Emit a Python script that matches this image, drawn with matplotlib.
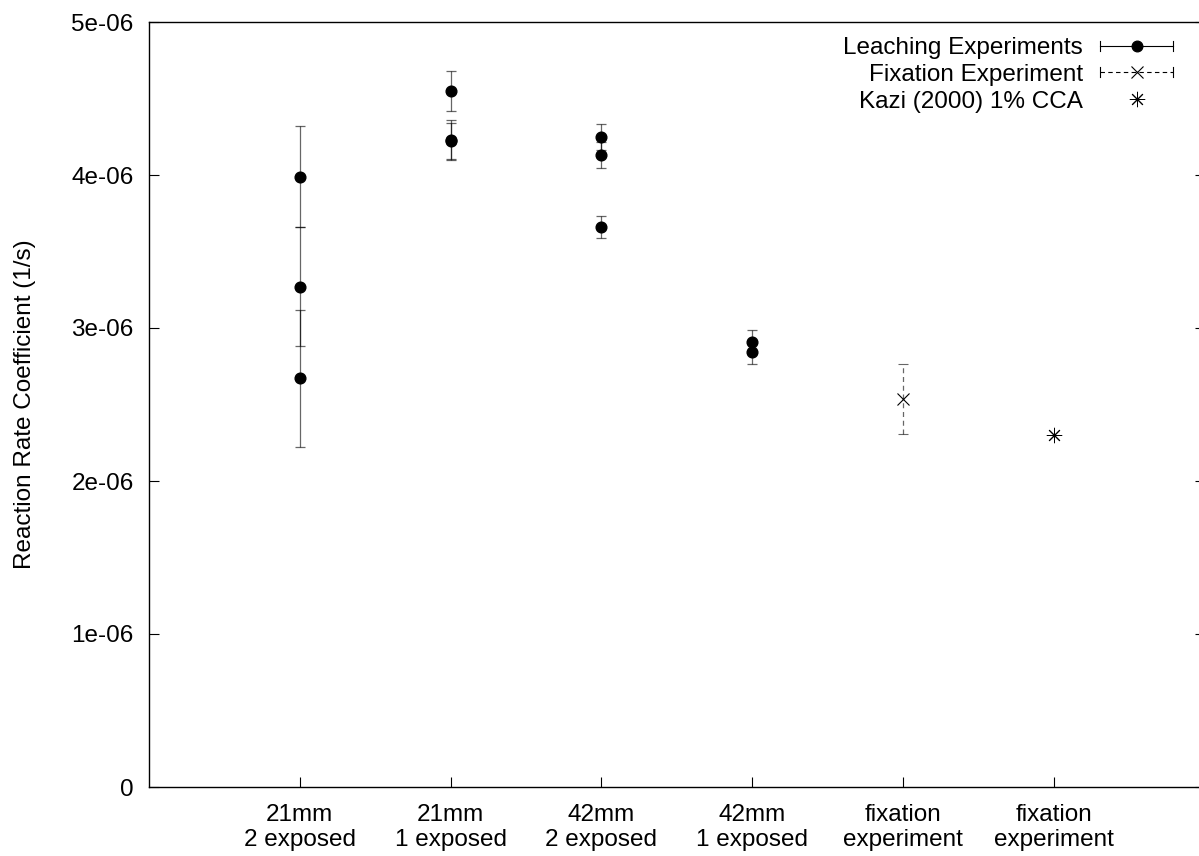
import matplotlib
matplotlib.use("Agg")
import matplotlib.pyplot as plt
from matplotlib.legend_handler import HandlerBase
from matplotlib.lines import Line2D
from matplotlib.ticker import FuncFormatter, MultipleLocator

# sample groups along the x axis
cat_pos = [1, 2, 3, 4, 5, 6]
categories = ["21mm\n2 exposed", "21mm\n1 exposed", "42mm\n2 exposed",
              "42mm\n1 exposed", "fixation\nexperiment", "fixation\nexperiment"]

# leaching runs: group, rate coefficient (1/s) and its uncertainty
leach_group = [1, 1, 1, 2, 2, 2, 3, 3, 3, 4, 4]
leach_k = [3.99e-6, 3.27e-6, 2.67e-6, 4.55e-6, 4.23e-6, 4.22e-6,
           4.25e-6, 4.13e-6, 3.66e-6, 2.91e-6, 2.84e-6]
leach_err = [0.33e-6, 0.39e-6, 0.45e-6, 0.13e-6, 0.127e-6, 0.12e-6,
             0.086e-6, 0.084e-6, 0.073e-6, 0.08e-6, 0.075e-6]

# fixation experiment
fix_group = [5]
fix_k = [2.535e-6]
fix_err = [0.23e-6]

# literature value
kazi_group = [6]
kazi_k = [2.30e-6]

labels = ["Leaching Experiments", "Fixation Experiment", "Kazi (2000) 1% CCA"]

W, H = 1199, 856
FS = 17.5
DASH = (0, (4, 3))
ASTERISK = (8, 2, 0)

plt.rcParams["font.family"] = ["Liberation Sans", "DejaVu Sans"]
plt.rcParams["font.size"] = FS


class CappedHandler(HandlerBase):
    """gnuplot style key sample: |---o---| with caps at both ends"""

    def __init__(self, ls, marker, ms, mew=0.9):
        super().__init__()
        self.ls, self.marker, self.ms, self.mew = ls, marker, ms, mew

    def create_artists(self, legend, orig_handle, xdescent, ydescent,
                       width, height, fontsize, trans):
        y = height / 2 - ydescent
        x0, x1 = -xdescent, width - xdescent
        cap = 3.6
        arts = [
            Line2D([x0, x1], [y, y], ls=self.ls, lw=0.8, color="k"),
            Line2D([x0, x0], [y - cap, y + cap], lw=0.8, color="k"),
            Line2D([x1, x1], [y - cap, y + cap], lw=0.8, color="k"),
            Line2D([(x0 + x1) / 2], [y], ls="none", marker=self.marker,
                   ms=self.ms, mew=self.mew, color="k"),
        ]
        for a in arts:
            a.set_transform(trans)
        return arts


fig = plt.figure(figsize=(W / 100, H / 100), dpi=100)
ax = fig.add_axes([149 / W, 69 / H, 1055.6 / W, 765 / H])

ebkw = dict(ecolor=(0, 0, 0, 0.6), elinewidth=0.9, capsize=3.8, capthick=0.9)
leach = ax.errorbar(leach_group, leach_k, yerr=leach_err, fmt="o", color="k",
                    ms=7.7, **ebkw)
fix = ax.errorbar(fix_group, fix_k, yerr=fix_err, fmt="x", color="k",
                  ms=8.5, mew=0.8, **ebkw)
fix[2][0].set_linestyle(DASH)
kazi, = ax.plot(kazi_group, kazi_k, ls="none", marker=ASTERISK, ms=11,
                mew=0.7, color="k")

ax.set_xlim(0, 7)
ax.set_ylim(0, 5e-6)
ax.set_xticks(cat_pos)
ax.set_xticklabels(categories)
ax.yaxis.set_major_locator(MultipleLocator(1e-6))
ax.yaxis.set_major_formatter(FuncFormatter(lambda v, _: "%g" % v))
ax.tick_params(axis="y", direction="in", length=7.2, width=0.8,
               left=True, right=True, pad=11)
ax.tick_params(axis="x", direction="in", length=7.2, width=0.8,
               top=False, pad=12)
for s in ax.spines.values():
    s.set_linewidth(1.0)

ax.set_ylabel("Reaction Rate Coefficient (1/s)", va="center")
ax.yaxis.set_label_coords((25 - 149) / 1055.6, 0.5)

fs_px = FS * 100 / 72
ax.legend([leach, fix, kazi], labels,
          handler_map={leach: CappedHandler("-", "o", 7.7),
                       fix: CappedHandler(DASH, "x", 8.5, 0.8)},
          loc="upper right", bbox_to_anchor=(1173 / W, 1 - 37 / H),
          bbox_transform=fig.transFigure, frameon=False, markerfirst=False,
          handlelength=73 / fs_px, handletextpad=17 / fs_px,
          labelspacing=0.2, borderpad=0, borderaxespad=0)

fig.savefig("out.png", dpi=100)
